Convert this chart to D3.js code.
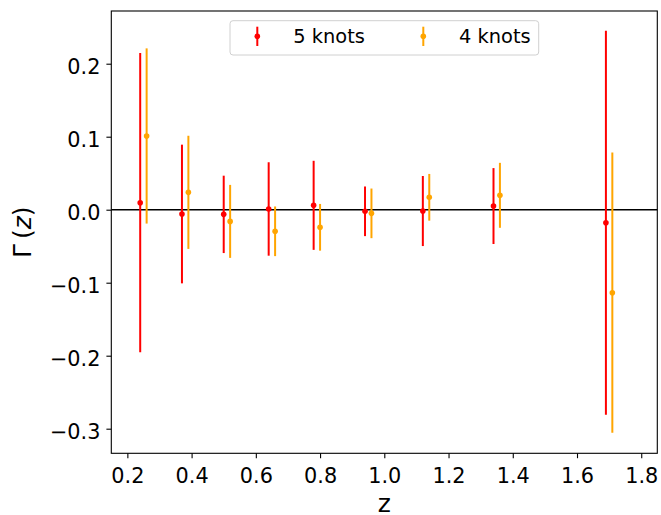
<!DOCTYPE html>
<html>
<head>
<meta charset="utf-8">
<script src="https://cdn.jsdelivr.net/npm/d3@7"></script>
<style>
  body { margin: 0; background: #fff; }
  svg { display: block; }
  text { font-family: "DejaVu Sans", sans-serif; fill: #000; }
</style>
</head>
<body>
<svg id="chart" width="661" height="515"></svg>
<script>
// ---- data ----
const zRed    = [0.24, 0.37, 0.50, 0.64, 0.78, 0.94, 1.12, 1.34, 1.69];
const zOrange = [0.26, 0.39, 0.52, 0.66, 0.80, 0.96, 1.14, 1.36, 1.71];
const gammaRed    = [0.0096, -0.0059, -0.0064, 0.001, 0.006, -0.0022, -0.0018, 0.005, -0.0178];
const errRed      = [0.205, 0.095, 0.053, 0.064, 0.061, 0.034, 0.048, 0.052, 0.263];
const gammaOrange = [0.101, 0.0238, -0.016, -0.0296, -0.0241, -0.005, 0.017, 0.0197, -0.1137];
const errOrange   = [0.120, 0.0775, 0.050, 0.034, 0.032, 0.034, 0.032, 0.0445, 0.192];
const xTicks = [0.2, 0.4, 0.6, 0.8, 1.0, 1.2, 1.4, 1.6, 1.8];
const yTicks = [0.2, 0.1, 0.0, -0.1, -0.2, -0.3];
const seriesNames = ["5 knots", "4 knots"];
const seriesColors = ["#ff0000", "#ffa500"];

// ---- layout ----
const L = 111.3, R = 657.3, T = 11, B = 453.3;
const svg = d3.select("#chart");
const x = d3.scaleLinear().domain([0.15, 1.85]).range([L, R]);
const y = d3.scaleLinear().domain([-0.3337, 0.2722]).range([B, T]);
const fmt = v => d3.format(".1f")(v).replace("-", "\u2212");

// axes
const xAxis = svg.append("g").attr("transform", `translate(0,${B})`)
  .call(d3.axisBottom(x).tickValues(xTicks).tickFormat(fmt).tickSize(4.9).tickPadding(6));
const yAxis = svg.append("g").attr("transform", `translate(${L},0)`)
  .call(d3.axisLeft(y).tickValues(yTicks).tickFormat(fmt).tickSize(4.9).tickPadding(6));
[xAxis, yAxis].forEach(g => {
  g.select(".domain").remove();
  g.selectAll(".tick line").attr("stroke", "#000").attr("stroke-width", 1.1);
  g.selectAll(".tick text").attr("font-family", "DejaVu Sans").attr("font-size", "20.8px").attr("fill", "#000");
});
xAxis.selectAll(".tick text").attr("dy", null).attr("y", 29.4);
yAxis.selectAll(".tick text").attr("dy", null).attr("y", 9.4);

// zero line
svg.append("line").attr("x1", L).attr("x2", R).attr("y1", y(0)).attr("y2", y(0))
  .attr("stroke", "#000").attr("stroke-width", 1.5);

// error bars
const series = [
  { z: zRed, v: gammaRed, e: errRed, c: seriesColors[0] },
  { z: zOrange, v: gammaOrange, e: errOrange, c: seriesColors[1] }
];
series.forEach(s => {
  const g = svg.append("g");
  const d = s.z.map((z, i) => ({ z, v: s.v[i], e: s.e[i] }));
  g.selectAll("line").data(d).join("line")
    .attr("x1", p => x(p.z)).attr("x2", p => x(p.z))
    .attr("y1", p => y(p.v - p.e)).attr("y2", p => y(p.v + p.e))
    .attr("stroke", s.c).attr("stroke-width", 2);
  g.selectAll("circle").data(d).join("circle")
    .attr("cx", p => x(p.z)).attr("cy", p => y(p.v)).attr("r", 2.8)
    .attr("fill", s.c);
});

// frame
svg.append("rect").attr("x", L).attr("y", T).attr("width", R - L).attr("height", B - T)
  .attr("fill", "none").attr("stroke", "#000").attr("stroke-width", 1.1);

// axis labels
svg.append("text").attr("x", (L + R) / 2).attr("y", 512).attr("text-anchor", "middle")
  .attr("font-size", "25px").text("z");
const yl = svg.append("text").attr("transform", `translate(31,${(T + B) / 2}) rotate(-90)`)
  .attr("text-anchor", "middle").attr("font-size", "25px");
yl.append("tspan").text("\u0393\u2009(");
yl.append("tspan").attr("font-style", "italic").text("z");
yl.append("tspan").text(")");

// legend
const lg = svg.append("g");
lg.append("rect").attr("x", 230).attr("y", 20.7).attr("width", 308.7).attr("height", 34.3)
  .attr("rx", 3).attr("fill", "#fff").attr("fill-opacity", 0.8)
  .attr("stroke", "#d0d0d0").attr("stroke-width", 1);
const legX = [257.3, 423.3];
const textX = [293.3, 459];
seriesNames.forEach((n, i) => {
  lg.append("line").attr("x1", legX[i]).attr("x2", legX[i]).attr("y1", 26.7).attr("y2", 46)
    .attr("stroke", seriesColors[i]).attr("stroke-width", 2);
  lg.append("circle").attr("cx", legX[i]).attr("cy", 36.3).attr("r", 2.8).attr("fill", seriesColors[i]);
  lg.append("text").attr("x", textX[i]).attr("y", 43.2).attr("font-size", "19.4px").text(n);
});
</script>
</body>
</html>
